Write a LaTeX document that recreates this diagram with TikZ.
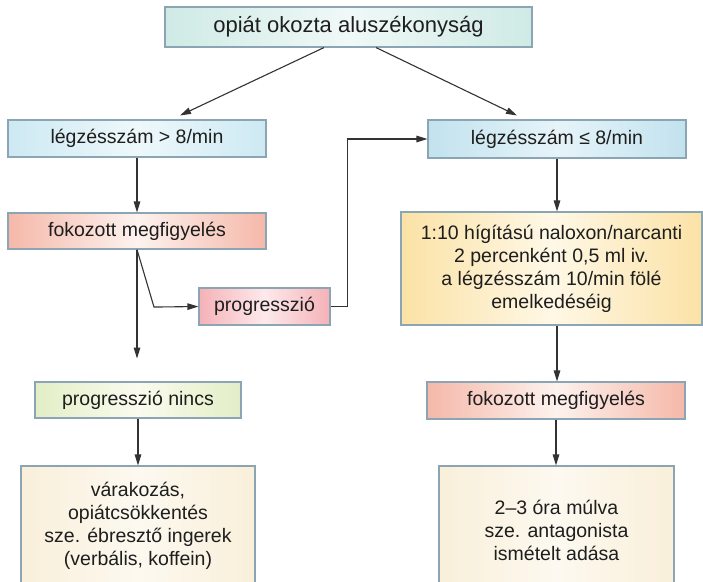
\documentclass[tikz,border=0pt]{standalone}
\usepackage{fontspec}
\setmainfont{Liberation Sans}
\usetikzlibrary{arrows.meta,calc}
\definecolor{boxline}{HTML}{8CA5B5}
\definecolor{arrowcol}{HTML}{333333}
\definecolor{textcol}{HTML}{1E1E1E}
\definecolor{tealE}{HTML}{CFEAE5}
\definecolor{tealM}{HTML}{F0F9F7}
\definecolor{blueE}{HTML}{CDE9F3}
\definecolor{blueM}{HTML}{EEF8FB}
\definecolor{blueDE}{HTML}{C2E2EE}
\definecolor{blueDM}{HTML}{E6F4F9}
\definecolor{salmonE}{HTML}{F5B8A9}
\definecolor{salmonM}{HTML}{FDF2EE}
\definecolor{pinkE}{HTML}{F4B2B8}
\definecolor{pinkM}{HTML}{FDE9EB}
\definecolor{greenE}{HTML}{E2EEC6}
\definecolor{greenM}{HTML}{FAFBEE}
\definecolor{yellowE}{HTML}{FBE2A6}
\definecolor{yellowM}{HTML}{FFF8E6}
\definecolor{creamE}{HTML}{F9EFDA}
\definecolor{creamM}{HTML}{FDF9F0}
\tikzset{
  box/.style={draw=boxline, line width=1.1pt, inner sep=0pt, align=center,
    font=\fontsize{19.5}{23}\selectfont, text=textcol},
  conn/.style={draw=arrowcol, line width=1.1pt,
    -{Triangle[length=11pt,width=6.5pt]}},
  tealbox/.style={left color=tealE, right color=tealE, middle color=tealM},
  bluebox/.style={left color=blueE, right color=blueE, middle color=blueM},
  bluedbox/.style={left color=blueDE, right color=blueDE, middle color=blueDM},
  salmonbox/.style={left color=salmonE, right color=salmonE, middle color=salmonM},
  pinkbox/.style={left color=pinkE, right color=pinkE, middle color=pinkM},
  greenbox/.style={left color=greenE, right color=greenE, middle color=greenM},
  yellowbox/.style={left color=yellowE, right color=yellowE, middle color=yellowM},
  creambox/.style={left color=creamE, right color=creamE, middle color=creamM},
}
\begin{document}
\begin{tikzpicture}[x=1pt,y=1pt]
\clip (0,0) rectangle (703,-581);
\fill[white] (0,0) rectangle (703,-581);

\node[box, tealbox, minimum width=367pt, minimum height=40pt,
  font=\fontsize{22}{26}\selectfont] (top) at (348.5,-27) {opiát okozta aluszékonyság};

\node[box, bluebox, minimum width=258pt, minimum height=37pt] (L1) at (137,-138.5) {légzésszám > 8/min};
\node[box, bluedbox, minimum width=258pt, minimum height=38pt] (R1) at (557,-139) {légzésszám ≤ 8/min};

\node[box, salmonbox, minimum width=258pt, minimum height=36pt] (L2) at (137,-231) {fokozott megfigyelés};
\node[box, pinkbox, minimum width=131pt, minimum height=37pt] (prog) at (264.5,-306.5) {progresszió};

\node[box, yellowbox, minimum width=301pt, minimum height=113pt] (R2) at (551.5,-268.5)
  {1:10 hígítású naloxon/narcanti\\2 percenként 0,5 ml iv.\\a légzésszám 10/min fölé\\emelkedéséig};

\node[box, greenbox, minimum width=206pt, minimum height=36pt] (L3) at (138,-400) {progresszió nincs};
\node[box, salmonbox, minimum width=258pt, minimum height=37pt] (R3) at (556,-400.5) {fokozott megfigyelés};

\node[box, creambox, minimum width=234pt, minimum height=120pt] (L4) at (138,-526)
  {várakozás,\\opiátcsökkentés\\sze. ébresztő ingerek\\(verbális, koffein)};
\node[box, creambox, minimum width=235pt, minimum height=129pt] (R4) at (556.5,-530.5)
  {2–3 óra múlva\\sze. antagonista\\ismételt adása};

% connectors
\draw[conn] ($(top.south)+(-24.5,0)$) -- ($(L1.north)+(43,4)$);
\draw[conn] ($(top.south)+(27.5,0)$) -- ($(R1.north)+(-40,4)$);
\draw[conn] (L1.south) -- (L2.north);
\coordinate (bend) at ($(L2.south)+(17,-57.5)$);
\draw[conn] (L2.south) -- (bend) -- (prog.west);
\draw[conn] (L2.south) -- ($(L2.south)+(0,-109)$);
\draw[conn] (prog.east) -- ++(17,0) |- (R1.west);
\draw[conn] (R1.south) -- (R1.south |- R2.north);
\draw[conn] (R1.south |- R2.south) -- (R1.south |- R3.north);
\draw[conn] (L3.south) -- (L3.south |- L4.north);
\draw[conn] (R3.south) -- (R3.south |- R4.north);
\end{tikzpicture}
\end{document}
